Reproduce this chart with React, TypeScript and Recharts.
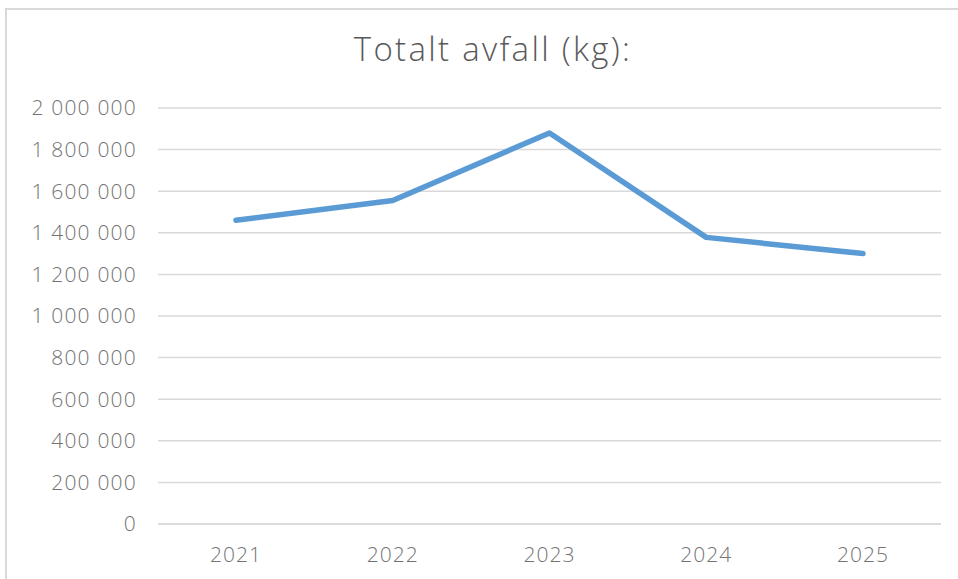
import { LineChart, Line, XAxis, YAxis, CartesianGrid } from 'recharts';

const years = ['2021', '2022', '2023', '2024', '2025'];
const totalWaste = [1460000, 1555000, 1880000, 1378000, 1300000];
const yTicks = [0, 200000, 400000, 600000, 800000, 1000000, 1200000, 1400000, 1600000, 1800000, 2000000];

const chartData = years.map((year, i) => ({ year, kg: totalWaste[i] }));

const formatKg = (v: number) => String(v).replace(/\B(?=(\d{3})+(?!\d))/g, ' ');

const FONT = '"Open Sans", "Noto Sans", sans-serif';

export default function App() {
  return (
    <div
      style={{
        position: 'absolute',
        left: 0,
        top: 0,
        width: 958,
        height: 579,
        overflow: 'hidden',
        background: '#fff',
        fontFamily: FONT,
      }}
    >
      <div
        style={{
          position: 'absolute',
          left: 5,
          top: 8,
          width: 1000,
          height: 600,
          borderLeft: '2px solid #d9d9d9',
          borderTop: '2px solid #d9d9d9',
        }}
      />
      <div
        style={{
          position: 'absolute',
          left: 493,
          top: 26,
          transform: 'translateX(-50%)',
          whiteSpace: 'nowrap',
          fontSize: 33,
          fontWeight: 300,
          letterSpacing: 2.3,
          color: '#595959',
          lineHeight: 'normal',
        }}
      >
        Totalt avfall (kg):
      </div>
      <div style={{ position: 'absolute', left: 0, top: 0 }}>
        <LineChart
          width={958}
          height={579}
          data={chartData}
          margin={{ top: 108, right: 17, left: 0, bottom: 0 }}
        >
          <CartesianGrid vertical={false} stroke="#d9d9d9" strokeWidth={1.5} />
          <XAxis
            dataKey="year"
            axisLine={{ stroke: '#d9d9d9', strokeWidth: 1.5 }}
            tickLine={false}
            tickSize={0}
            tickMargin={23}
            padding={{ left: 78, right: 78 }}
            tick={{ fontSize: 21, fill: '#737373', fontFamily: FONT, fontWeight: 300, letterSpacing: 1 }}
            height={55}
          />
          <YAxis
            domain={[0, 2000000]}
            ticks={yTicks}
            tickFormatter={formatKg}
            axisLine={false}
            tickLine={false}
            tickSize={0}
            tickMargin={21}
            width={158}
            interval={0}
            tick={{ fontSize: 21, fill: '#737373', fontFamily: FONT, fontWeight: 300, letterSpacing: 1.2 }}
          />
          <Line
            type="linear"
            dataKey="kg"
            stroke="#5b9bd5"
            strokeWidth={5.5}
            strokeLinecap="round"
            strokeLinejoin="round"
            dot={false}
            activeDot={false}
            isAnimationActive={false}
          />
        </LineChart>
      </div>
    </div>
  );
}
